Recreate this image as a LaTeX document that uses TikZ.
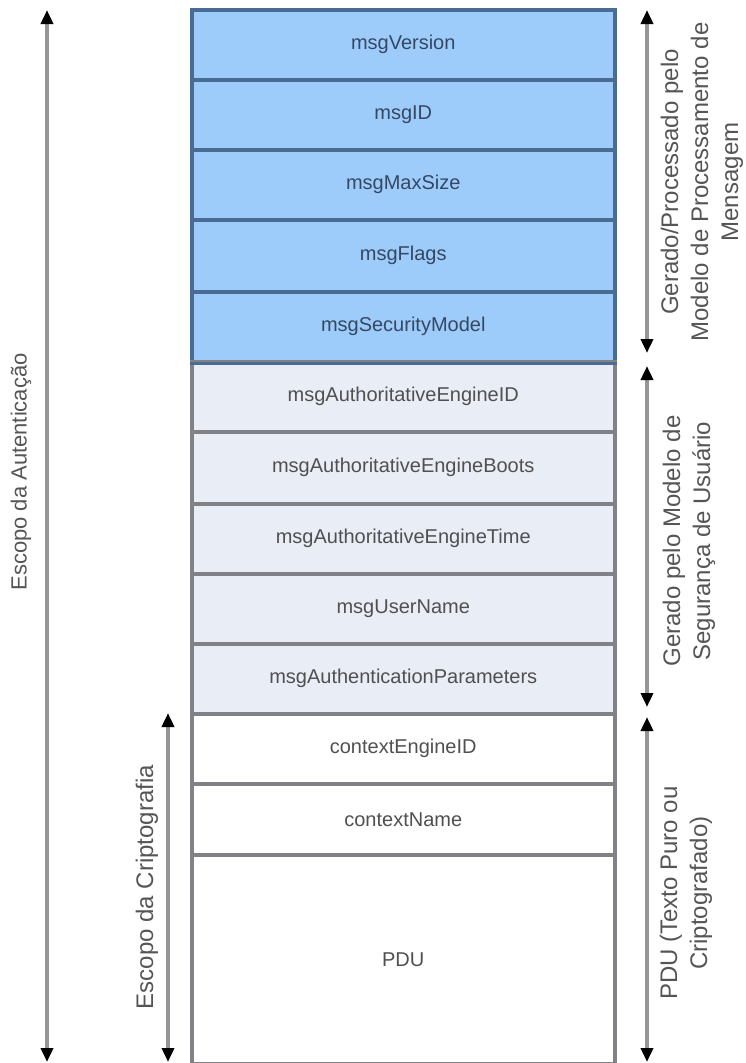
\documentclass[tikz,border=0pt]{standalone}
\usepackage{fontspec}
\setmainfont{Liberation Sans}
\usetikzlibrary{arrows.meta}

\definecolor{hdrfill}{RGB}{158,204,250}
\definecolor{hdrline}{RGB}{74,108,146}
\definecolor{hdrtext}{RGB}{52,72,100}
\definecolor{usmfill}{RGB}{233,237,246}
\definecolor{usmline}{RGB}{128,130,136}
\definecolor{rowtext}{RGB}{80,80,80}
\definecolor{scopeline}{RGB}{150,150,150}
\definecolor{labeltext}{RGB}{85,85,85}

\tikzset{
  x=1pt, y=-1pt,
  field/.style={rectangle, anchor=north west, minimum width=423pt, inner sep=0pt,
                line width=3.5pt, font=\fontsize{20}{23}\selectfont},
  hdrfield/.style={field, draw=hdrline, fill=hdrfill, text=hdrtext},
  usmfield/.style={field, draw=usmline, fill=usmfill, text=rowtext},
  pdufield/.style={field, draw=usmline, fill=white, text=rowtext},
  scope/.style={draw=scopeline, line width=3.5pt,
                {Triangle[length=14pt,width=12pt,color=black]}-{Triangle[length=14pt,width=12pt,color=black]}},
  sidelabel/.style={rotate=90, align=center, text=labeltext,
                    font=\fontsize{24}{30}\selectfont, inner sep=0pt},
}

\begin{document}
\begin{tikzpicture}
\useasboundingbox (0,0) rectangle (746,1063);

% header fields (message processing model)
\node[hdrfield, minimum height=70pt] (f1) at (190,8)   {msgVersion};
\node[hdrfield, minimum height=70pt] (f2) at (190,78)  {msgID};
\node[hdrfield, minimum height=70pt] (f3) at (190,148) {msgMaxSize};
\node[hdrfield, minimum height=72pt] (f4) at (190,218) {msgFlags};
\node[hdrfield, minimum height=70pt] (f5) at (190,290) {msgSecurityModel};

% user-based security model fields
\node[usmfield, minimum height=70pt] (f6)  at (190,360) {msgAuthoritativeEngineID};
\node[usmfield, minimum height=72pt] (f7)  at (190,430) {msgAuthoritativeEngineBoots};
\node[usmfield, minimum height=70pt] (f8)  at (190,502) {msgAuthoritativeEngineTime};
\node[usmfield, minimum height=70pt] (f9)  at (190,572) {msgUserName};
\node[usmfield, minimum height=70pt] (f10) at (190,642) {msgAuthenticationParameters};

% scoped PDU
\node[pdufield, minimum height=70pt]  (f11) at (190,712) {contextEngineID};
\node[pdufield, minimum height=71pt]  (f12) at (190,782) {contextName};
\node[pdufield, minimum height=209pt] (f13) at (190,853) {PDU};

% redraw header borders on top of the shared edge with the USM block
\draw[hdrline, line width=3.5pt] (f5.south west) -- (f5.south east);

% scope arrows
\coordinate (authT) at (47,10);   \coordinate (authB) at (47,1062);
\coordinate (cryT)  at (168,713); \coordinate (cryB)  at (168,1062);
\coordinate (mpT)   at (647,10);  \coordinate (mpB)   at (647,353);
\coordinate (usT)   at (647,366); \coordinate (usB)   at (647,707);
\coordinate (pduT)  at (647,717); \coordinate (pduB)  at (647,1062);

\draw[scope] (authT) -- (authB);
\draw[scope] (cryT) -- (cryB);
\draw[scope] (mpT) -- (mpB);
\draw[scope] (usT) -- (usB);
\draw[scope] (pduT) -- (pduB);

% scope labels
\node[sidelabel, font=\fontsize{22}{28}\selectfont] (lauth) at (21,472) {Escopo da Autenticação};
\node[sidelabel] (lcry) at (147,887) {Escopo da Criptografia};
\node[sidelabel] (lmp)  at (702,182) {Gerado/Processado pelo\\Modelo de Processamento de\\Mensagem};
\node[sidelabel] (lus)  at (689,541) {Gerado pelo Modelo de\\Segurança de Usuário};
\node[sidelabel] (lpdu) at (686,893) {PDU (Texto Puro ou\\Criptografado)};
\end{tikzpicture}
\end{document}
